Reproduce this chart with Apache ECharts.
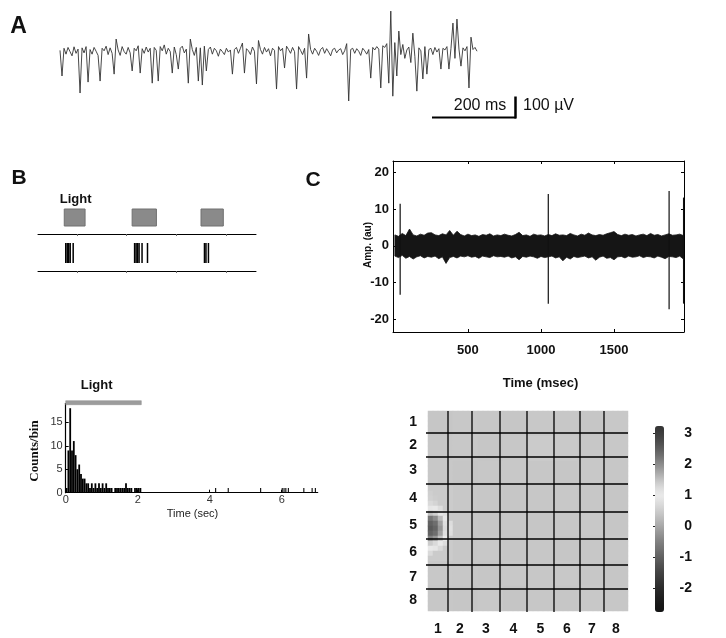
<!DOCTYPE html>
<html>
<head>
<meta charset="utf-8">
<script src="https://cdn.jsdelivr.net/npm/echarts@6/dist/echarts.min.js"></script>
<style>
  html, body { margin: 0; padding: 0; background: #fff; }
  #chart { width: 726px; height: 638px; }
</style>
</head>
<body>
<div id="chart"></div>
<script>
// ---- panel A: extracellular trace (uV), one value every ~4.8 ms
var traceA = [
  8, -114, 18, -10, 22, 2, -18, 25, -6, 14,
  -195, 20, -4, 26, -143, 12, -10, 22, 4, -16,
  -138, 18, 6, 28, -12, 20, -6, -105, 62, 10,
  -16, 26, 2, -10, 22, -4, -90, 18, 6, 30,
  -100, 16, -6, 24, 0, 18, -148, 22, 8, -138,
  26, 6, 34, -10, 18, 2, -100, 24, -12, -81,
  18, 28, -4, 14, -148, 62, 12, -16, 22, -138,
  20, -157, 28, -90, 12, 24, -10, 18, 6, -20,
  14, 2, -12, 18, 0, 10, -105, 12, 22, -6,
  18, 43, -100, 16, 6, -12, 24, 4, -152, 55,
  12, -10, 22, 0, 16, -18, 18, 8, -176, 26,
  6, 18, -76, 28, 12, -6, 22, 2, -176, 26,
  8, -12, 18, -124, 86, 12, -10, 18, 4, -16,
  12, 22, -6, 16, 0, -18, 12, 18, -4, 10,
  16, -12, 6, 40, -233, 12, 18, -6, 16, 4,
  -16, 18, 6, -10, 12, -124, 22, 10, 26, 14,
  -171, 30, 22, 40, -148, 195, -210, 45, -114, 100,
  -12, 36, -30, 10, 24, -50, 90, -20, -186, 20,
  6, -128, 26, -105, 12, 18, -12, 22, 0, 16,
  -81, 18, 10, 26, -81, 16, 138, -30, 157, 14,
  -67, 20, 6, 26, -171, 71, 12, 22, 4
];

// ---- panel B: light pulses and spike raster
var lightOn = [0.74, 2.11, 3.5];
var lightOff = [1.16, 2.6, 3.95];
var rasterSpikes = [0.77, 0.8, 0.83, 0.86, 0.92, 2.16, 2.19, 2.22, 2.25, 2.31, 2.42, 3.57, 3.6, 3.65];

// ---- PSTH (bins of 0.05 s from 0 to 2.1 s) and later single spikes
var histBinWidth = 0.05;
var histCounts = [1, 9, 18, 9, 11, 8, 5, 6, 4, 3, 3, 2, 2, 1, 2, 1, 2, 1, 2, 1, 2,
  1, 2, 1, 1, 1, 0, 1, 1, 1, 1, 1, 1, 2, 1, 1, 1, 0, 1, 1, 1, 1];
var lateSpikeTimes = [4.15, 4.5, 5.4, 6.0, 6.05, 6.1, 6.17, 6.6, 6.83, 6.92];
var lightPeriod = [0, 2.1];

// ---- panel C: noise band envelope every 25 ms, plus spikes [t, min, max]
var bandStep = 25;
var bandTop = [
  3.0, 2.6, 3.4, 2.8, 4.6, 3.0, 2.7, 3.2, 2.9, 3.5,
  3.6, 3.0, 2.8, 3.3, 3.0, 4.2, 2.9, 4.0, 3.1, 2.7,
  3.2, 2.8, 3.0, 2.6, 3.1, 2.9, 3.3, 2.7, 3.0, 2.8,
  3.2, 2.9, 2.7, 3.1, 3.7, 2.8, 3.0, 2.6, 3.2, 2.9,
  3.0, 2.7, 3.1, 2.8, 3.3, 2.9, 3.0, 2.8, 3.4, 3.0,
  2.7, 3.2, 2.9, 3.5, 3.0, 2.8, 3.1, 2.9, 3.3, 3.6,
  3.9, 3.1, 2.8, 3.2, 2.9, 3.1, 2.7, 3.0, 3.2, 2.8,
  3.4, 2.9, 3.1, 2.7, 3.0, 3.3, 2.9, 3.0, 3.2, 2.8
];
var bandBottom = [
  -2.8, -3.2, -2.6, -3.4, -2.9, -3.6, -3.0, -2.7, -3.3, -2.9,
  -3.1, -2.8, -3.5, -3.0, -4.8, -3.2, -2.9, -3.3, -2.8, -3.0,
  -2.7, -3.1, -2.9, -3.4, -2.8, -3.0, -3.2, -2.7, -3.0, -2.9,
  -3.1, -2.8, -3.3, -3.0, -3.8, -2.9, -3.1, -2.8, -3.0, -3.4,
  -2.9, -3.2, -3.0, -2.8, -3.3, -3.0, -4.1, -3.1, -3.6, -2.9,
  -3.2, -3.0, -2.8, -3.3, -3.0, -3.9, -3.1, -2.8, -3.4, -3.2,
  -3.8, -3.0, -2.9, -3.3, -2.8, -3.1, -3.0, -2.7, -3.2, -2.9,
  -3.0, -3.3, -2.8, -3.1, -3.5, -2.9, -3.0, -3.2, -2.8, -3.6
];
var cSpikes = [[36, -13.4, 11.5], [1050, -15.8, 14.2], [1877, -17.3, 15.0], [1976, -15.8, 13.2]];

// ---- panel C map: 8x8 electrode values, 5x5 sub-cells each, plus the local blob
var heatRes = 5;
var cellValues = [
  [0.40, 0.42, 0.41, 0.40, 0.42, 0.41, 0.40, 0.42],
  [0.41, 0.42, 0.40, 0.41, 0.46, 0.44, 0.41, 0.42],
  [0.42, 0.40, 0.41, 0.42, 0.41, 0.40, 0.42, 0.41],
  [0.47, 0.42, 0.41, 0.40, 0.41, 0.42, 0.41, 0.40],
  [0.43, 0.41, 0.40, 0.41, 0.40, 0.41, 0.42, 0.40],
  [0.46, 0.41, 0.42, 0.40, 0.41, 0.40, 0.41, 0.42],
  [0.42, 0.41, 0.40, 0.42, 0.41, 0.42, 0.41, 0.40],
  [0.41, 0.40, 0.42, 0.38, 0.41, 0.40, 0.42, 0.41]
];
var blobCells = [
  [0, 21, 2.2], [0, 22, 2.45], [0, 23, 2.55], [0, 24, 2.45], [0, 25, 2.1],
  [1, 21, 2.0], [1, 22, 2.3], [1, 23, 2.4], [1, 24, 2.3], [1, 25, 1.9],
  [2, 21, 1.55], [2, 22, 1.8], [2, 23, 1.9], [2, 24, 1.8], [2, 25, 1.5],
  [3, 21, 1.05], [3, 22, 1.2], [3, 23, 1.25], [3, 24, 1.2], [3, 25, 1.0],
  [0, 20, 1.5], [1, 20, 1.35], [2, 20, 1.05], [0, 26, 1.4], [1, 26, 1.25], [2, 26, 1.0],
  [0, 19, 1.05], [1, 19, 0.95], [0, 27, 1.0], [1, 27, 0.9],
  [4, 22, 0.75], [4, 23, 0.8], [4, 24, 0.75], [3, 20, 0.8], [3, 26, 0.75],
  [0, 18, 0.7], [0, 28, 0.7], [2, 19, 0.75], [2, 27, 0.7],
  [0, 16, 0.52], [0, 17, 0.56], [1, 17, 0.5], [1, 18, 0.6]
];
var colBounds = [0.8, 1.76, 2.88, 3.96, 5.04, 6.08, 7.04];
var rowBounds = [0.88, 1.84, 2.92, 4.04, 5.12, 6.16, 7.12];
var cellLabels = ['1', '2', '3', '4', '5', '6', '7', '8'];
var colorbarTicks = [-2, -1, 0, 1, 2, 3];

var FONT = '"Liberation Sans", Arial, sans-serif';

function mids(bounds) {
  var b = [0].concat(bounds, [8]);
  var out = [];
  for (var i = 0; i < 8; i++) out.push((b[i] + b[i + 1]) / 2);
  return out;
}
var colMids = mids(colBounds);
var rowMids = mids(rowBounds);
function midLabel(list) {
  return function (v) {
    var best = 0;
    for (var i = 1; i < list.length; i++) {
      if (Math.abs(list[i] - v) < Math.abs(list[best] - v)) best = i;
    }
    return cellLabels[best];
  };
}
function plain(v) { return String(v); }

var blobMap = {};
blobCells.forEach(function (b) { blobMap[b[0] + '_' + b[1]] = b[2]; });
var heatSize = 8 * heatRes;
var heatData = [];
var heatCats = [];
for (var r = 0; r < heatSize; r++) {
  heatCats.push(r);
  for (var c = 0; c < heatSize; c++) {
    var key = c + '_' + r;
    var v = key in blobMap ? blobMap[key] : cellValues[Math.floor(r / heatRes)][Math.floor(c / heatRes)];
    heatData.push([c, r, v]);
  }
}

var histData = [];
histCounts.forEach(function (n, i) {
  if (n > 0) histData.push([i * histBinWidth, (i + 1) * histBinWidth, n]);
});
lateSpikeTimes.forEach(function (t) {
  histData.push([t, t + histBinWidth * 0.6, 1]);
});

function txt(text, x, y, font, opts) {
  opts = opts || {};
  return {
    type: 'text', x: x, y: y, rotation: opts.rotation || 0, silent: true,
    style: {
      text: text, x: 0, y: 0, font: font, fill: opts.fill || '#111',
      align: opts.align || 'center', verticalAlign: 'middle',
      textAlign: opts.align || 'center', textVerticalAlign: 'middle'
    }
  };
}

var chart = echarts.init(document.getElementById('chart'));

var option = {
  animation: false,
  backgroundColor: '#fff',
  grid: [
    { left: 60, top: 5, width: 417, height: 100 },
    { left: 38, top: 200, width: 218, height: 34 },
    { left: 38, top: 234, width: 218, height: 37 },
    { left: 65.7, top: 403.5, width: 252, height: 89.2 },
    { left: 393, top: 161, width: 291, height: 171 },
    { left: 428, top: 411, width: 200, height: 200 },
    { left: 428, top: 411, width: 200, height: 200 },
    { left: 655, top: 426, width: 9, height: 186 }
  ],
  xAxis: [
    { gridIndex: 0, type: 'category', data: traceA.map(function (_, i) { return i; }), boundaryGap: false, show: false },
    { gridIndex: 1, type: 'value', min: 0.21, max: 4.61,
      axisLine: { onZero: false, lineStyle: { color: '#000', width: 1 } },
      axisTick: { customValues: [1, 2, 3, 4], length: 2, lineStyle: { color: '#666' } },
      axisLabel: { show: false }, splitLine: { show: false } },
    { gridIndex: 2, type: 'value', min: 0.21, max: 4.61,
      axisLine: { onZero: false, lineStyle: { color: '#000', width: 1 } },
      axisTick: { customValues: [1, 2, 3, 4], length: 2, lineStyle: { color: '#666' } },
      axisLabel: { show: false }, splitLine: { show: false } },
    { gridIndex: 3, type: 'value', min: 0, max: 7,
      axisLine: { onZero: false, lineStyle: { color: '#000', width: 1.2 } },
      axisTick: { customValues: [0, 2, 4, 6], inside: true, length: 3, lineStyle: { color: '#000' } },
      axisLabel: { customValues: [0, 2, 4, 6], margin: 2, fontSize: 11, color: '#333', fontFamily: FONT },
      splitLine: { show: false } },
    { gridIndex: 4, type: 'value', min: -13, max: 1979, position: 'bottom',
      axisLine: { onZero: false, lineStyle: { color: '#000', width: 1 } },
      axisTick: { customValues: [500, 1000, 1500], inside: true, length: 3, lineStyle: { color: '#000' } },
      axisLabel: { customValues: [500, 1000, 1500], formatter: plain, margin: 12, fontSize: 13, fontWeight: 'bold', color: '#111', fontFamily: FONT },
      splitLine: { show: false } },
    { gridIndex: 4, type: 'value', min: -13, max: 1979, position: 'top',
      axisLine: { onZero: false, lineStyle: { color: '#000', width: 1 } },
      axisTick: { customValues: [500, 1000, 1500], inside: true, length: 3, lineStyle: { color: '#000' } },
      axisLabel: { show: false }, splitLine: { show: false } },
    { gridIndex: 5, type: 'category', data: heatCats, show: false },
    { gridIndex: 6, type: 'value', min: 0, max: 8,
      axisLine: { show: false }, axisTick: { show: false }, splitLine: { show: false },
      axisLabel: { customValues: colMids, formatter: midLabel(colMids), margin: 11, fontSize: 14, fontWeight: 'bold', color: '#111', fontFamily: FONT } },
    { gridIndex: 7, type: 'value', min: 0, max: 1, show: false }
  ],
  yAxis: [
    { gridIndex: 0, type: 'value', min: -252, max: 224, show: false },
    { gridIndex: 1, type: 'value', min: 0, max: 1, show: false },
    { gridIndex: 2, type: 'value', min: 0, max: 1, show: false },
    { gridIndex: 3, type: 'value', min: 0, max: 19,
      axisLine: { show: true, onZero: false, lineStyle: { color: '#000', width: 1.2 } },
      axisTick: { show: true, customValues: [0, 5, 10, 15], inside: true, length: 3, lineStyle: { color: '#000' } },
      axisLabel: { customValues: [0, 5, 10, 15], margin: 3, fontSize: 11, color: '#333', fontFamily: FONT },
      splitLine: { show: false } },
    { gridIndex: 4, type: 'value', min: -23.55, max: 23.2, position: 'left',
      axisLine: { show: true, onZero: false, lineStyle: { color: '#000', width: 1 } },
      axisTick: { show: true, customValues: [-20, -10, 0, 10, 20], inside: true, length: 3, lineStyle: { color: '#000' } },
      axisLabel: { customValues: [-20, -10, 0, 10, 20], margin: 4, fontSize: 13, fontWeight: 'bold', color: '#111', fontFamily: FONT },
      splitLine: { show: false } },
    { gridIndex: 4, type: 'value', min: -23.55, max: 23.2, position: 'right',
      axisLine: { show: true, onZero: false, lineStyle: { color: '#000', width: 1 } },
      axisTick: { show: true, customValues: [-20, -10, 0, 10, 20], inside: true, length: 3, lineStyle: { color: '#000' } },
      axisLabel: { show: false }, splitLine: { show: false } },
    { gridIndex: 5, type: 'category', data: heatCats, inverse: true, show: false },
    { gridIndex: 6, type: 'value', min: 0, max: 8, inverse: true,
      axisLine: { show: false }, axisTick: { show: false }, splitLine: { show: false },
      axisLabel: { customValues: rowMids, formatter: midLabel(rowMids), margin: 11, fontSize: 14, fontWeight: 'bold', color: '#111', fontFamily: FONT } },
    { gridIndex: 7, type: 'value', min: -2.77, max: 3.23, position: 'right',
      axisLine: { show: false }, splitLine: { show: false },
      axisTick: { show: true, customValues: colorbarTicks, inside: true, length: 2, lineStyle: { color: '#222' } },
      axisLabel: { customValues: colorbarTicks, align: 'right', margin: 28, fontSize: 14, fontWeight: 'bold', color: '#111', fontFamily: FONT } }
  ],
  visualMap: {
    type: 'continuous', seriesIndex: 7, min: -2.77, max: 3.23,
    left: 655, top: 426, itemWidth: 9, itemHeight: 186, padding: 0,
    calculable: false, hoverLink: false, orient: 'vertical',
    inRange: { color: ['#141414', '#181818', '#202020', '#2a2a2a', '#363636', '#424242', '#505050',
      '#606060', '#707070', '#808080', '#929292', '#a6a6a6', '#bababa', '#cccccc', '#dcdcdc',
      '#eaeaea', '#dcdcdc', '#c4c4c4', '#a8a8a8', '#8e8e8e', '#747474', '#5e5e5e', '#4c4c4c',
      '#3e3e3e', '#343434'] }
  },
  series: [
    { type: 'line', xAxisIndex: 0, yAxisIndex: 0, data: traceA, symbol: 'none',
      lineStyle: { color: '#333', width: 0.9 }, silent: true },
    { type: 'custom', xAxisIndex: 1, yAxisIndex: 1,
      data: lightOn.map(function (t, i) { return [t, lightOff[i]]; }),
      renderItem: function (params, api) {
        var p0 = api.coord([api.value(0), 0.735]);
        var p1 = api.coord([api.value(1), 0.235]);
        return { type: 'rect', shape: { x: p0[0], y: p0[1], width: p1[0] - p0[0], height: p1[1] - p0[1] },
          style: { fill: '#8a8a8a', stroke: '#707070', lineWidth: 1 } };
      } },
    { type: 'custom', xAxisIndex: 2, yAxisIndex: 2,
      data: rasterSpikes.map(function (t) { return [t, 0]; }),
      renderItem: function (params, api) {
        var p0 = api.coord([api.value(0), 0.216]);
        var p1 = api.coord([api.value(0), 0.757]);
        return { type: 'line', shape: { x1: p0[0], y1: p0[1], x2: p1[0], y2: p1[1] },
          style: { stroke: '#000', lineWidth: 1.5 } };
      } },
    { type: 'custom', xAxisIndex: 3, yAxisIndex: 3, data: histData,
      renderItem: function (params, api) {
        var p0 = api.coord([api.value(0), 0]);
        var p1 = api.coord([api.value(1), api.value(2)]);
        return { type: 'rect', shape: { x: p0[0], y: p1[1], width: Math.max(p1[0] - p0[0], 1), height: p0[1] - p1[1] },
          style: { fill: '#000' } };
      } },
    { type: 'custom', xAxisIndex: 3, yAxisIndex: 3, data: [[lightPeriod[0], lightPeriod[1]]], clip: false,
      renderItem: function (params, api) {
        var p0 = api.coord([api.value(0), 19.17]);
        var p1 = api.coord([api.value(1), 19.17]);
        return { type: 'rect', shape: { x: p0[0], y: p0[1] - 2, width: p1[0] - p0[0], height: 4 },
          style: { fill: '#9c9c9c', stroke: '#8a8a8a', lineWidth: 0.5 } };
      } },
    { type: 'custom', xAxisIndex: 4, yAxisIndex: 4, data: [[0, 0]],
      renderItem: function (params, api) {
        var pts = [];
        for (var k = 0; k < bandTop.length; k++) pts.push(api.coord([k * bandStep, bandTop[k]]));
        for (var j = bandBottom.length - 1; j >= 0; j--) pts.push(api.coord([j * bandStep, bandBottom[j]]));
        return { type: 'polygon', shape: { points: pts }, style: { fill: '#151515', stroke: '#151515', lineWidth: 0.8 } };
      } },
    { type: 'custom', xAxisIndex: 4, yAxisIndex: 4, data: cSpikes,
      renderItem: function (params, api) {
        var p0 = api.coord([api.value(0), api.value(1)]);
        var p1 = api.coord([api.value(0), api.value(2)]);
        return { type: 'line', shape: { x1: p0[0], y1: p0[1], x2: p1[0], y2: p1[1] },
          style: { stroke: '#111', lineWidth: 1.2 } };
      } },
    { type: 'heatmap', xAxisIndex: 6, yAxisIndex: 6, data: heatData, progressive: 0,
      itemStyle: { borderWidth: 0 }, emphasis: { disabled: true }, silent: true },
    { type: 'custom', xAxisIndex: 7, yAxisIndex: 7, data: colBounds.map(function (b) { return [b, 0]; }),
      renderItem: function (params, api) {
        var p0 = api.coord([api.value(0), 0]);
        var p1 = api.coord([api.value(0), 8]);
        return { type: 'line', shape: { x1: p0[0], y1: p0[1], x2: p1[0], y2: p1[1] + 1 },
          style: { stroke: '#000', lineWidth: 1.3 } };
      } },
    { type: 'custom', xAxisIndex: 7, yAxisIndex: 7, data: rowBounds.map(function (b) { return [0, b]; }),
      renderItem: function (params, api) {
        var p0 = api.coord([0, api.value(1)]);
        var p1 = api.coord([8, api.value(1)]);
        return { type: 'line', shape: { x1: p0[0] - 2, y1: p0[1], x2: p1[0], y2: p1[1] },
          style: { stroke: '#000', lineWidth: 1.3 } };
      } }
  ],
  graphic: [
    txt('A', 18.5, 27, 'bold 23px ' + FONT),
    txt('B', 19, 178, 'bold 21px ' + FONT),
    txt('C', 313, 180, 'bold 21px ' + FONT),
    { type: 'line', silent: true, shape: { x1: 432, y1: 117.5, x2: 516, y2: 117.5 }, style: { stroke: '#000', lineWidth: 2 } },
    { type: 'line', silent: true, shape: { x1: 515.5, y1: 96.5, x2: 515.5, y2: 118.5 }, style: { stroke: '#000', lineWidth: 2.5 } },
    txt('200 ms', 480, 106, '16px ' + FONT),
    txt('100 \u00b5V', 548.5, 106, '16px ' + FONT),
    txt('Light', 75.7, 199.5, 'bold 13px ' + FONT),
    txt('Light', 96.7, 385, 'bold 13px ' + FONT),
    txt('Counts/bin', 35, 451, 'bold 13px "Liberation Serif", serif', { rotation: Math.PI / 2 }),
    txt('Time (sec)', 192.5, 514, '11px ' + FONT, { fill: '#222' }),
    txt('Amp. (au)', 368, 245, 'bold 10px ' + FONT, { rotation: Math.PI / 2 }),
    txt('Time (msec)', 540.5, 383, 'bold 13px ' + FONT)
  ]
};

chart.setOption(option);
window.addEventListener('resize', function () { chart.resize(); });
</script>
</body>
</html>
